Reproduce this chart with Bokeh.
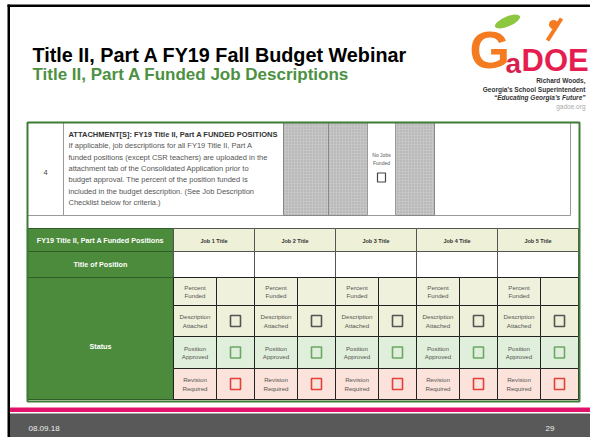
from bokeh.plotting import figure
from bokeh.models import Range1d
from bokeh.core.properties import value
from bokeh.embed import file_html
from bokeh.resources import INLINE

# ---------------- content ----------------
TITLE = "Title II, Part A FY19 Fall Budget Webinar"
SUBTITLE = "Title II, Part A Funded Job Descriptions"
ITEM_NO = "4"
ITEM_HEAD = "ATTACHMENT[S]: FY19 Title II, Part A FUNDED POSITIONS"
ITEM_LINES = [
    "If applicable, job descriptions for all FY19 Title II, Part A",
    "funded positions (except CSR teachers) are uploaded in the",
    "attachment tab of the Consolidated Application prior to",
    "budget approval. The percent of the position funded is",
    "included in the budget description. (See Job Description",
    "Checklist below for criteria.)",
]
NO_JOBS = ["No Jobs", "Funded"]
LEFT_LABELS = ["FY19 Title II, Part A Funded Positions", "Title of Position", "Status"]
JOB_TITLES = ["Job 1 Title", "Job 2 Title", "Job 3 Title", "Job 4 Title", "Job 5 Title"]
STATUS_LABELS = [["Percent", "Funded"], ["Description", "Attached"],
                 ["Position", "Approved"], ["Revision", "Required"]]
STATUS_FILL = ["#eff1dc", "#eef0d9", "#e0efdb", "#fbe2da"]
CHECK_COLORS = [None, "#555555", "#6aa864", "#e2413b"]
FOOTER_DATE = "08.09.18"
SLIDE_NO = "29"
LOGO_LINES = ["Richard Woods,", "Georgia\u2019s School Superintendent",
              "\u201cEducating Georgia\u2019s Future\u201d", "gadoe.org"]

FONT = value("Liberation Sans")

W, H = 590, 437

# ---------------- figure (pixel coordinates of the slide) ----------------
p = figure(width=W, height=H, x_range=Range1d(0, W), y_range=Range1d(H, 0),
           output_backend="svg", toolbar_location=None,
           x_axis_location=None, y_axis_location=None, min_border=0)
p.grid.visible = False
p.outline_line_color = None
p.background_fill_color = "white"
p.border_fill_color = "white"


def txt(x, y, t, size, color="#333333", align="left", style="normal", font=FONT):
    p.text(x=[x], y=[y], text=[t], text_font=font, text_font_size=size,
           text_color=color, text_align=align, text_baseline="middle",
           text_font_style=style)


# slide frame
p.quad(left=[7], right=[9.5], top=[4], bottom=[445], fill_color="black", line_color=None)
p.quad(left=[7], right=[594], top=[4], bottom=[6.5], fill_color="black", line_color=None)

# titles
txt(32, 54.5, TITLE, "19.8px", "black", "left", "bold")
txt(32, 73.5, SUBTITLE, "17px", "#4c9141", "left", "bold")

# logo
p.ellipse(x=[507], y=[21], width=[27], height=[10], angle=[0.4],
          fill_color="#8dc63f", line_color=None)
txt(469, 49, "G", "52px", "#f47b20", "left", "bold")
txt(505, 63, "a", "28px", "#d91f4e", "left", "bold")
txt(521, 60, "DOE", "31px", "#e61e50", "left", "bold")
p.scatter(x=[553], y=[24], size=9, marker="circle", fill_color="#f47b20", line_color=None)
p.segment(x0=[547], y0=[40], x1=[561], y1=[18], line_color="#f47b20", line_width=4)
for i, (t, st, col) in enumerate(zip(LOGO_LINES, ["bold", "bold", "bold italic", "normal"],
                                     ["#333333", "#333333", "#333333", "#aaaaaa"])):
    txt(585, 80 + i * 8.5, t, "6.5px", col, "right", st)

# ---------------- upper box (item 4) ----------------
p.quad(left=[27], right=[570], top=[122], bottom=[215], fill_color="white", line_color="#999999")
p.quad(left=[27], right=[63], top=[122], bottom=[215], fill_color="white", line_color="#999999")
gray_l = [283, 328, 395]
gray_r = [328, 367, 434]
p.quad(left=gray_l, right=gray_r, top=[122] * 3, bottom=[215] * 3,
       fill_color="#c6c6c6", hatch_pattern="dot", hatch_color="#a5a5a5", hatch_scale=3,
       line_color="#888888")
p.quad(left=[367], right=[395], top=[122], bottom=[215], fill_color="white", line_color="#999999")
txt(45, 172, ITEM_NO, "7.5px", "#444444", "center")
txt(68, 134, ITEM_HEAD, "7.5px", "#333333", "left", "bold")
for i, line in enumerate(ITEM_LINES):
    txt(68, 145.3 + i * 11.3, line, "7.5px", "#555555")
txt(381, 154, NO_JOBS[0], "5px", "#555555", "center")
txt(381, 162, NO_JOBS[1], "5px", "#555555", "center")
p.rect(x=[381], y=[177], width=[8], height=[9], fill_color=None, line_color="#444444", line_width=1.2)

# ---------------- lower table ----------------
GREEN = "#4b8b3b"
DARK_GREEN = "#2f5e28"
J = [173, 254, 335, 416, 497, 578]
LABEL_W = 43
R = [277, 305, 336, 368, 399]

p.quad(left=[27, 27, 27], right=[173] * 3, top=[228, 251, 277], bottom=[251, 277, 399],
       fill_color=GREEN, line_color=DARK_GREEN, line_width=1.2)
txt(100, 240, LEFT_LABELS[0], "7.2px", "white", "center", "bold")
txt(100, 264, LEFT_LABELS[1], "7.2px", "white", "center", "bold")
txt(100, 346, LEFT_LABELS[2], "7.2px", "white", "center", "bold")

p.quad(left=J[:-1], right=J[1:], top=[228] * 5, bottom=[251] * 5,
       fill_color="#eef0d8", line_color="#555555")
p.quad(left=J[:-1], right=J[1:], top=[251] * 5, bottom=[277] * 5,
       fill_color="white", line_color="#555555")
for i, jt in enumerate(JOB_TITLES):
    txt((J[i] + J[i + 1]) / 2, 240, jt, "5.5px", "#333333", "center", "bold")

for r in range(4):
    lefts, rights = [], []
    for i in range(5):
        lefts += [J[i], J[i] + LABEL_W]
        rights += [J[i] + LABEL_W, J[i + 1]]
    p.quad(left=lefts, right=rights, top=[R[r]] * 10, bottom=[R[r + 1]] * 10,
           fill_color=STATUS_FILL[r], line_color="#222222", line_width=1)
    yc = (R[r] + R[r + 1]) / 2
    for i in range(5):
        xc = J[i] + LABEL_W / 2
        txt(xc, yc - 4.2, STATUS_LABELS[r][0], "6.2px", "#555555", "center")
        txt(xc, yc + 4.2, STATUS_LABELS[r][1], "6.2px", "#555555", "center")
    if CHECK_COLORS[r]:
        p.rect(x=[J[i] + LABEL_W + (J[i + 1] - J[i] - LABEL_W) / 2 for i in range(5)],
               y=[yc] * 5, width=10, height=11, fill_color=None,
               line_color=CHECK_COLORS[r], line_width=1.6)

# outer green border
p.quad(left=[27], right=[579], top=[122], bottom=[401], fill_color=None,
       line_color="#3e7b34", line_width=2)

# ---------------- footer ----------------
p.quad(left=[9.5], right=[594], top=[407], bottom=[411.5], fill_color="#e2136a", line_color=None)
p.quad(left=[9.5], right=[594], top=[413], bottom=[445], fill_color="#595959", line_color=None)
txt(28, 428, FOOTER_DATE, "8px", "#eeeeee")
txt(545, 428, SLIDE_NO, "8px", "#eeeeee")

open("out.html", "w").write(file_html(p, INLINE))
